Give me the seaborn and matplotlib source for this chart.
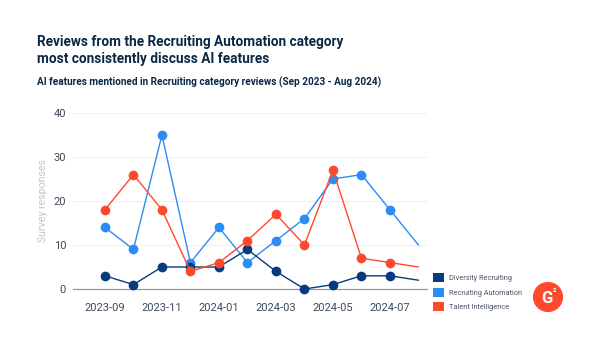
import matplotlib
matplotlib.use("Agg")
import matplotlib.pyplot as plt
from matplotlib.patches import Patch, Circle
import seaborn as sns
import pandas as pd

months = ["2023-09", "2023-10", "2023-11", "2023-12", "2024-01", "2024-02",
          "2024-03", "2024-04", "2024-05", "2024-06", "2024-07", "2024-08"]
diversity = [3, 1, 5, 5, 5, 9, 4, 0, 1, 3, 3, 2]
automation = [14, 9, 35, 6, 14, 6, 11, 16, 25, 26, 18, 10]
talent = [18, 26, 18, 4, 6, 11, 17, 10, 27, 7, 6, 5]
series_names = ["Diversity Recruiting", "Recruiting Automation", "Talent Intelligence"]
tick_labels = ["2023-09", "2023-11", "2024-01", "2024-03", "2024-05", "2024-07"]
y_ticks = [0, 10, 20, 30, 40]

colors = {"Diversity Recruiting": "#073a7f",
          "Recruiting Automation": "#2b8cf6",
          "Talent Intelligence": "#ff492c"}

rows = []
for name, vals in zip(series_names, [diversity, automation, talent]):
    for i, (m, v) in enumerate(zip(months, vals)):
        rows.append({"idx": i, "month": m, "value": v, "series": name})
df = pd.DataFrame(rows)

sns.set_theme(style="white")
plt.rcParams["font.family"] = ["Roboto", "DejaVu Sans"]

fig = plt.figure(figsize=(6.0, 3.47), dpi=100)
fig.patch.set_facecolor("white")
ax = fig.add_axes([73 / 600, 58 / 347, 354 / 600, 176 / 347])

# draw order: automation below, then diversity, then talent on top
z = {"Recruiting Automation": 3, "Diversity Recruiting": 4, "Talent Intelligence": 5}
for name in ["Recruiting Automation", "Diversity Recruiting", "Talent Intelligence"]:
    sub = df[df["series"] == name]
    sns.lineplot(data=sub, x="idx", y="value", ax=ax, color=colors[name],
                 linewidth=1.0, marker="o", markersize=7.0, markeredgewidth=0,
                 markevery=list(range(len(months) - 1)), zorder=z[name],
                 legend=False, clip_on=False)

ax.set_xlim(-1.12, 11.3)
ax.set_ylim(0, 40)
ax.set_yticks(y_ticks)
ax.set_yticklabels([str(t) for t in y_ticks])
ax.set_xticks([months.index(t) for t in tick_labels])
ax.set_xticklabels(tick_labels)
ax.tick_params(axis="both", length=0, labelsize=8.0, labelcolor="#3c4a5c")
ax.tick_params(axis="x", pad=10)
ax.tick_params(axis="y", pad=5)
ax.yaxis.grid(True, color="#eef0f3", linewidth=0.8)
ax.set_axisbelow(True)
for s in ["top", "right", "left"]:
    ax.spines[s].set_visible(False)
ax.spines["bottom"].set_color("#8f9bab")
ax.spines["bottom"].set_linewidth(0.9)
ax.set_xlabel("")
ax.set_ylabel("Survey responses", fontsize=7.6, color="#c2c6cc", labelpad=4)

fig.text(37 / 600, 1 - 42 / 347, "Reviews from the Recruiting Automation category",
         fontsize=9.8, fontweight="bold", color="#0a2745", va="center", ha="left")
fig.text(37 / 600, 1 - 59 / 347, "most consistently discuss AI features",
         fontsize=9.8, fontweight="bold", color="#0a2745", va="center", ha="left")
fig.text(37 / 600, 1 - 82 / 347,
         "AI features mentioned in Recruiting category reviews (Sep 2023 - Aug 2024)",
         fontsize=7.2, fontweight="semibold", color="#0a2745", va="center", ha="left")

handles = [Patch(facecolor=colors[n], edgecolor="none", label=n) for n in series_names]
leg = fig.legend(handles=handles, loc="upper left",
                 bbox_to_anchor=(428 / 600, 1 - 268 / 347), frameon=False,
                 fontsize=5.3, handlelength=1.5, handleheight=1.5,
                 handletextpad=0.7, labelspacing=0.75, borderpad=0.2)
for t in leg.get_texts():
    t.set_color("#4a5566")

# G2 badge
lax = fig.add_axes([(548 - 16) / 600, 1 - (297 + 16) / 347, 32 / 600, 32 / 347])
lax.set_xlim(-1, 1)
lax.set_ylim(-1, 1)
lax.set_aspect("equal")
lax.axis("off")
lax.add_patch(Circle((0, 0), 0.9, color="#ff492c"))
lax.text(-0.08, -0.08, "G", color="white", fontsize=12, fontweight="bold",
         ha="center", va="center")
lax.text(0.42, 0.38, "2", color="white", fontsize=4.5, fontweight="bold",
         ha="center", va="center")

fig.savefig("out.png", dpi=100, facecolor="white")
